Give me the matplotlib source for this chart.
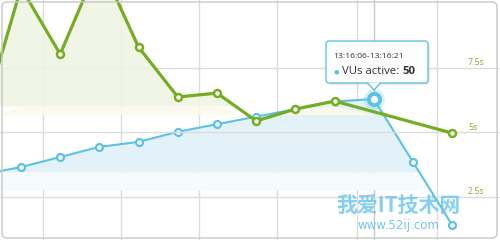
import numpy as np
import matplotlib
matplotlib.use("Agg")
import matplotlib.pyplot as plt
from matplotlib.patches import FancyBboxPatch, Polygon
from matplotlib.text import Annotation
from matplotlib.transforms import IdentityTransform

# ── Datos ──
puntos = [-1, 0, 1, 2, 3, 4, 5, 6, 7, 8, 9, 10, 11]
vus = [20, 23, 27, 31, 33, 37, 40, 43, 46, 49, 50, 25, 0]
x_tiempo = [-1, 0, 1, 2, 3, 4, 5, 6, 7, 8, 11]
tiempo_resp = [5.39, 10.6, 8.02, 11.6, 8.29, 6.36, 6.51, 5.43, 5.89, 6.20, 4.96]
ticks_s = [2.5, 5, 7.5]
etiquetas_s = ["2.5s", "5s", "7.5s"]
grid_x = [0.56, 2.55, 4.54, 6.53, 8.57, 10.61]
hover_idx = 10
tooltip_fecha = "13:16:06-13:16:21"
tooltip_serie = "VUs active: "
tooltip_valor = "50"

VERDE = "#74ad22"
AZUL = "#5cc2e3"
GRIS = "#dcdcdc"
W, H = 500, 240

fig = plt.figure(figsize=(5, 2.4), dpi=100)
fig.patch.set_facecolor("white")

ax = fig.add_axes([0, 0, 1, 1])
ax2 = ax.twinx()
for a in (ax, ax2):
    a.set_xlim(-0.536, 12.22)
    for s in a.spines.values():
        s.set_visible(False)
    a.set_xticks([])
    a.set_yticks([])
ax.set_ylim(-5.95, 89.3)
ax2.set_ylim(0.814, 10.12)
ax2.patch.set_visible(False)

# Rejilla
for gx in grid_x:
    ax.axvline(gx, color=GRIS, lw=1, zorder=0)
for t in ticks_s:
    ax2.axhline(t, color=GRIS, lw=1, zorder=0)
ax.axvline(puntos[hover_idx], color="#c8c8c8", lw=1, zorder=0.5)

# Áreas
xv = np.array(puntos, dtype=float)
yv = np.array(vus, dtype=float)
ax.fill_between(xv, yv, 21, where=yv > 21, interpolate=True,
                color="#e3f2f9", lw=0, zorder=1)
ax.fill_between(xv, np.minimum(yv, 21), 14, where=yv > 14, interpolate=True,
                color="#f5fafc", lw=0, zorder=1)

xg = np.array(x_tiempo, dtype=float)
yg = np.array(tiempo_resp, dtype=float)
ax2.fill_between(xg, yg, 6.0, where=yg > 6.0, interpolate=True,
                 color="#eef4e2", alpha=0.85, lw=0, zorder=1)
ax2.fill_between(xg, np.minimum(yg, 6.0), 5.65, where=yg > 5.65, interpolate=True,
                 color="#fcfaec", alpha=0.85, lw=0, zorder=1)

# Líneas
ax.plot(puntos, vus, color=AZUL, lw=1.5, marker="o", ms=5, mew=1.6,
        mfc="white", mec=AZUL, zorder=3)
ax2.plot(x_tiempo, tiempo_resp, color=VERDE, lw=2.3, marker="o", ms=5, mew=1.8,
         mfc="white", mec=VERDE, zorder=3)

# Punto activo
ax2.plot(puntos[hover_idx], vus[hover_idx], marker="o", ms=15, mfc=AZUL,
         mec="none", alpha=0.25, transform=ax.transData, zorder=5)
ax2.plot(puntos[hover_idx], vus[hover_idx], marker="o", ms=8, mew=2.8,
         mfc="white", mec=AZUL, transform=ax.transData, zorder=6)

# Etiquetas eje derecho
for t, lab in zip(ticks_s, etiquetas_s):
    ax2.annotate(lab, xy=(468 / W, t), xycoords=("axes fraction", "data"),
                 xytext=(0, 3.6), textcoords="offset points", va="center",
                 ha="left", fontsize=6.4, color="#8fab2f", family="Open Sans")

# Tooltip
ident = IdentityTransform()
def px(x, y):
    return x, H - y

sombra = FancyBboxPatch(px(328, 85), 102, 42, boxstyle="round,pad=0,rounding_size=3",
                        transform=ident, fc="black", ec="none", alpha=0.08, zorder=9)
caja = FancyBboxPatch(px(326, 83), 102, 42, boxstyle="round,pad=0,rounding_size=3",
                      transform=ident, fc="white", ec=AZUL, lw=1, alpha=0.95, zorder=10)
fig.add_artist(sombra)
fig.add_artist(caja)
pico = Polygon([px(367, 82.5), px(374, 90), px(381, 82.5)], closed=False,
               transform=ident, fc="white", ec=AZUL, lw=1, zorder=11)
fig.add_artist(pico)

fig.text(*px(333, 56), tooltip_fecha, transform=ident, va="center", ha="left",
         fontsize=6.1, color="#333333", family="Open Sans", zorder=12)
fig.text(*px(336, 72), "\u25cf", transform=ident, va="center", ha="center",
         fontsize=4.5, color=AZUL, zorder=12)
t1 = fig.text(*px(342, 72), tooltip_serie, transform=ident, va="center", ha="left",
              fontsize=8.2, color="#333333", family="Open Sans", zorder=12)
fig.add_artist(Annotation(
    tooltip_valor, xy=(1, 0.5), xycoords=t1, va="center", ha="left",
    fontsize=8.2, fontweight="bold", color="#333333", family="Open Sans", zorder=12))

# Marca de agua
fig.text(*px(399, 205), "我爱IT技术网", transform=ident, va="center", ha="center",
         fontsize=15, fontweight="bold", color="#66c4f0", alpha=0.8,
         family=["Noto Sans CJK SC", "DejaVu Sans"], zorder=8)
fig.text(*px(398, 226), "www.52ij.com", transform=ident, va="center", ha="center",
         fontsize=8.5, color="#5cbbe8", alpha=0.85, family="DejaVu Sans", zorder=8)

# Marco
marco = FancyBboxPatch(px(2, 238), 495, 236, boxstyle="round,pad=0,rounding_size=5",
                       transform=ident, fc="none", ec="#c8c8c8", lw=1, zorder=20)
fig.add_artist(marco)

plt.savefig("out.png", dpi=100)
plt.close()
